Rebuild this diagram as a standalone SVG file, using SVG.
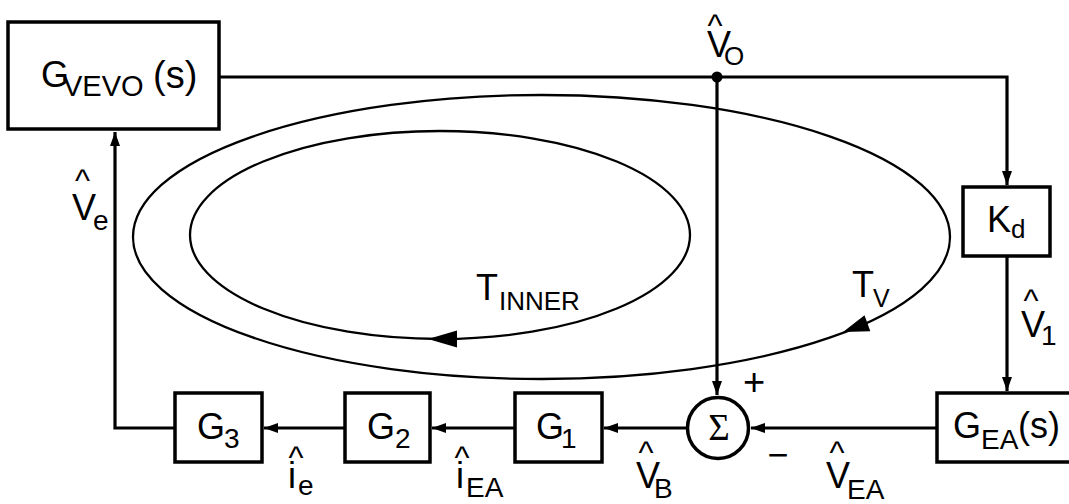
<svg xmlns="http://www.w3.org/2000/svg" width="1069" height="504" viewBox="0 0 1069 504">
<defs>
<style>
.box{fill:#fff;stroke:#000;stroke-width:3.5}
.wire{fill:none;stroke:#000;stroke-width:3.2}
.loop{fill:none;stroke:#000;stroke-width:2.3}
text{font-family:"Liberation Sans",Arial,Helvetica,sans-serif;fill:#000;font-size:36px}
.s{font-size:28px}
.c{font-size:32px}
.sig{font-family:"Liberation Serif","Times New Roman",serif;font-size:37px;text-anchor:middle}
</style>
<marker id="ah" markerUnits="userSpaceOnUse" markerWidth="16" markerHeight="12" refX="14" refY="5" orient="auto">
<path d="M0,0 L14,5 L0,10 Z" fill="#000"/>
</marker>
</defs>
<rect width="1069" height="504" fill="#fff"/>

<g id="loops">
<ellipse class="loop" cx="541.5" cy="237" rx="408.5" ry="142"/>
<ellipse class="loop" cx="440" cy="235" rx="250" ry="104"/>
<polygon points="428,339 457,330.5 457,347.5" fill="#000"/>
<polygon points="843,332 870.3,331.2 864.5,315.2" fill="#000"/>
</g>

<g id="connectors">
<path class="wire" d="M219,77 H1007 V185" marker-end="url(#ah)"/>
<path class="wire" d="M717,77 V395" marker-end="url(#ah)"/>
<path class="wire" d="M1007,256 V391" marker-end="url(#ah)"/>
<path class="wire" d="M937,428 H751" marker-end="url(#ah)"/>
<path class="wire" d="M687,428 H604" marker-end="url(#ah)"/>
<path class="wire" d="M515,428 H432" marker-end="url(#ah)"/>
<path class="wire" d="M345,428 H264" marker-end="url(#ah)"/>
<path class="wire" d="M175,428 H115 V132" marker-end="url(#ah)"/>
<circle cx="717" cy="77" r="5.5" fill="#000"/>
</g>

<g id="gvevo">
<rect class="box" x="8" y="22" width="211" height="107"/>
<text x="41" y="87">G<tspan x="63" y="96" style="font-size:29px">VEVO</tspan><tspan x="153" y="88" style="font-size:38px">(s)</tspan></text>
</g>

<g id="kd">
<rect class="box" x="963" y="187" width="87" height="69"/>
<text x="987" y="232">K<tspan x="1011" y="238" style="font-size:26px">d</tspan></text>
</g>

<g id="gea">
<rect class="box" x="937" y="393" width="136" height="69"/>
<text x="953" y="438">G<tspan x="981" y="449" class="s">EA</tspan><tspan x="1018" y="438">(s)</tspan></text>
</g>

<g id="sum">
<circle cx="718" cy="428" r="30.5" fill="#fff" stroke="#000" stroke-width="3.5"/>
<text x="719" y="440" class="sig">Σ</text>
<text x="754" y="395" style="font-size:38px;text-anchor:middle">+</text>
<text x="778" y="467" style="text-anchor:middle">−</text>
</g>

<g id="g1">
<rect class="box" x="515" y="393" width="87" height="69"/>
<text x="536" y="439">G<tspan x="561" y="448" class="s">1</tspan></text>
</g>

<g id="g2">
<rect class="box" x="345" y="393" width="85" height="69"/>
<text x="367" y="439">G<tspan x="395" y="448" class="s">2</tspan></text>
</g>

<g id="g3">
<rect class="box" x="175" y="393" width="87" height="69"/>
<text x="197" y="439">G<tspan x="224" y="448" class="s">3</tspan></text>
</g>

<g id="labels">
<text><tspan x="707.5" y="36" class="c">^</tspan><tspan x="707" y="57">V</tspan><tspan x="724" y="65" style="font-size:26px">O</tspan></text>
<text><tspan x="75" y="191" class="c">^</tspan><tspan x="72" y="220">V</tspan><tspan x="93" y="230" class="s">e</tspan></text>
<text><tspan x="1023.5" y="311" class="c">^</tspan><tspan x="1021" y="337">V</tspan><tspan x="1041" y="345" class="s">1</tspan></text>
<text><tspan x="638.5" y="463" class="c">^</tspan><tspan x="636" y="488">V</tspan><tspan x="654" y="498" class="s">B</tspan></text>
<text><tspan x="829.5" y="463" class="c">^</tspan><tspan x="826" y="488">V</tspan><tspan x="847" y="499" class="s">EA</tspan></text>
<text><tspan x="288.5" y="468" class="c">^</tspan><tspan x="288" y="488">i</tspan><tspan x="298" y="495" class="s">e</tspan></text>
<text><tspan x="454.5" y="468" class="c">^</tspan><tspan x="456" y="488">i</tspan><tspan x="466" y="497" class="s">EA</tspan></text>
<text x="476" y="300">T<tspan x="499" y="310" style="font-size:26px">INNER</tspan></text>
<text x="852" y="297">T<tspan x="873" y="307" style="font-size:25px">V</tspan></text>
</g>
</svg>
